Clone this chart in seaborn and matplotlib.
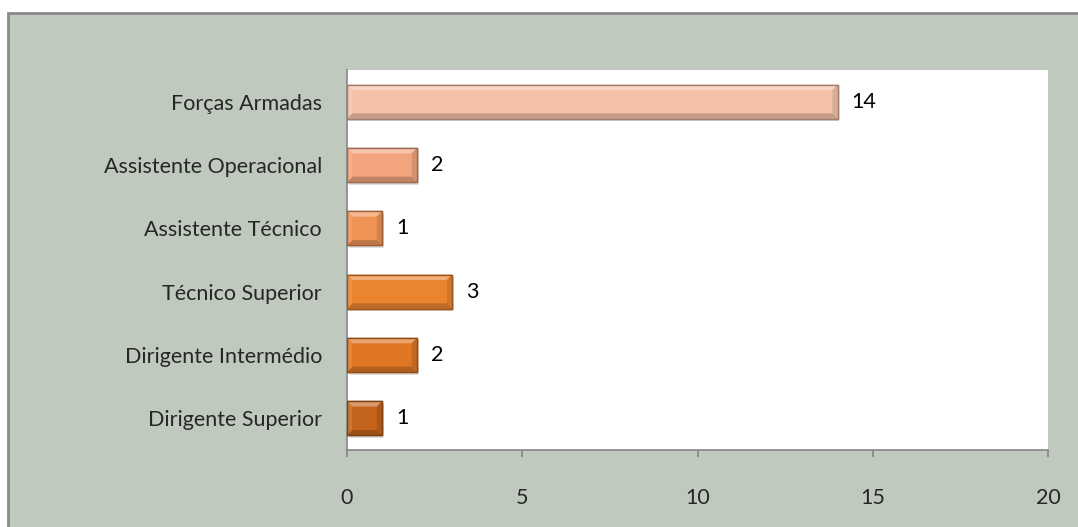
import matplotlib
matplotlib.use("Agg")
import matplotlib.pyplot as plt
import seaborn as sns
import numpy as np
import pandas as pd
from matplotlib.patches import Rectangle, Polygon

categories = ["Forças Armadas", "Assistente Operacional", "Assistente Técnico",
              "Técnico Superior", "Dirigente Intermédio", "Dirigente Superior"]
values = [14, 2, 1, 3, 2, 1]
colors = ["#F5C2A8", "#F2A47E", "#EF9256", "#EB842E", "#DE7624", "#C4631C"]
xticks = [0, 5, 10, 15, 20]

sns.set_theme(style="white")
plt.rcParams['font.family'] = ['Lato', 'DejaVu Sans']

bg = "#C0C9BE"
fig = plt.figure(figsize=(10.78, 5.27), dpi=100)
fig.patch.set_facecolor("white")
frame = Rectangle((8/1078, -0.05), 1.1, 1 - 13/527 + 0.05, transform=fig.transFigure,
                  facecolor=bg, edgecolor="#8A8A8A", linewidth=2.0, zorder=-10)
fig.patches.append(frame)

ax = fig.add_axes([347/1078, 1 - 450/527, (1048 - 347)/1078, (450 - 70)/527])
ax.set_zorder(5)
df = pd.DataFrame({"cat": categories, "val": values})
sns.barplot(data=df, x="val", y="cat", hue="cat", palette=colors, legend=False,
            orient="h", width=0.54, ax=ax, saturation=1, zorder=3)

def shade(c, f):
    rgb = np.array(matplotlib.colors.to_rgb(c))
    if f >= 0:
        return tuple(rgb + (1 - rgb) * f)
    return tuple(rgb * (1 + f))

bx, by = 0.15, 0.085
for p, c in zip(list(ax.patches), colors):
    x0, y0 = p.get_x(), p.get_y()
    w, h = p.get_width(), p.get_height()
    p.set_edgecolor(shade(c, -0.35))
    p.set_linewidth(1.0)
    x1, y1 = x0 + w, y0 + h
    # in inverted y: y0 is top (smaller value), y1 bottom
    top = Polygon([(x0, y0), (x1, y0), (x1 - bx, y0 + by), (x0 + bx, y0 + by)],
                  closed=True, facecolor=shade(c, 0.35), edgecolor="none", zorder=4)
    bot = Polygon([(x0, y1), (x1, y1), (x1 - bx, y1 - by), (x0 + bx, y1 - by)],
                  closed=True, facecolor=shade(c, -0.2), edgecolor="none", zorder=4)
    rgt = Polygon([(x1, y0), (x1, y1), (x1 - bx, y1 - by), (x1 - bx, y0 + by)],
                  closed=True, facecolor=shade(c, -0.12), edgecolor="none", zorder=4)
    lft = Polygon([(x0, y0), (x0, y1), (x0 + bx, y1 - by), (x0 + bx, y0 + by)],
                  closed=True, facecolor=shade(c, 0.12), edgecolor="none", zorder=4)
    shadow = Rectangle((x0 + 0.05, y0 + 0.04), w, h, facecolor=(0, 0, 0, 0.12),
                       edgecolor="none", zorder=2)
    for art in (top, bot, rgt, lft, shadow):
        ax.add_patch(art)
    ax.add_patch(Rectangle((x0, y0), w, h, facecolor="none", edgecolor=shade(c, -0.35),
                           linewidth=1.0, zorder=5))

ax.set_xlim(0, 20)
ax.set_ylim(len(categories) - 0.5, -0.5)
ax.set_facecolor("white")
ax.set_xticks(xticks)
ax.set_xticklabels([str(t) for t in xticks], fontsize=15.5)
ax.set_yticks(range(len(categories)))
ax.set_yticklabels(categories, fontsize=15.5)
ax.tick_params(axis="y", length=0, pad=18)
ax.tick_params(axis="x", length=5, color="#868686", direction="out", pad=22)
ax.set_yticks(np.arange(-0.5, len(categories), 1), minor=True)
ax.tick_params(axis="y", which="minor", length=5, color="#868686", direction="out")
ax.xaxis.set_tick_params(bottom=True)
for s in ["top", "right"]:
    ax.spines[s].set_visible(False)
for s in ["left", "bottom"]:
    ax.spines[s].set_color("#868686")
    ax.spines[s].set_linewidth(1.2)
ax.set_xlabel("")
ax.set_ylabel("")
for i, v in enumerate(values):
    ax.text(v + 0.4, i, str(v), va="center", ha="left", fontsize=15.5, color="black")

fig.savefig("out.png", dpi=100, facecolor=fig.get_facecolor())
